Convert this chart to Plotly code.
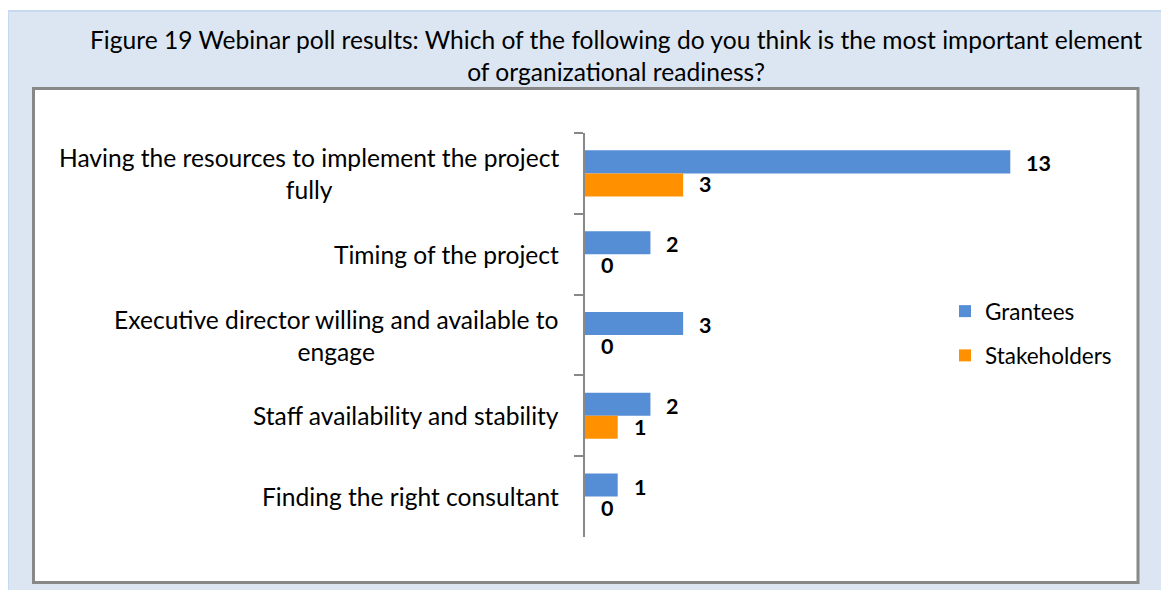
import plotly.graph_objects as go

categories = [
    "Having the resources to implement the project<br>fully",
    "Timing of the project",
    "Executive director willing and available to<br>engage",
    "Staff availability and stability",
    "Finding the right consultant",
]
grantees = [13, 2, 3, 2, 1]
stakeholders = [3, 0, 0, 1, 0]
series_names = ["Grantees", "Stakeholders"]
title_text = ("Figure 19 Webinar poll results: Which of the following do you think is the most important element"
              "<br>of organizational readiness?")

# page body has an 8px margin: figure covers reference pixels 8..1169 x 8..590
OFF = 8
W, H = 1169 - OFF, 590 - OFF
L, R, T, B = 585 - OFF, 1043 - OFF, 133 - OFF, 537 - OFF
FONT = "Lato"


def px2x(px):
    return (px - OFF - L) / (R - L)


def py2y(py):
    return (B - (py - OFF)) / (B - T)


fig = go.Figure()
fig.add_trace(go.Bar(y=categories, x=grantees, orientation="h", name=series_names[0],
                     marker=dict(color="#558ED5", line=dict(width=0)), legendgroup="g"))
fig.add_trace(go.Bar(y=categories, x=stakeholders, orientation="h", name=series_names[1],
                     marker=dict(color="#FF9000", line=dict(width=0)), legendgroup="s"))

annotations = []
# data labels
for vals, shift in ((grantees, 10), (stakeholders, -11)):
    for c, v in zip(categories, vals):
        annotations.append(dict(x=v, y=c, xref="x", yref="y", text=f"<b>{v}</b>", showarrow=False,
                                xanchor="left", xshift=14, yshift=shift,
                                font=dict(family=FONT, size=21.5, color="#000000")))
# category labels
for c in categories:
    annotations.append(dict(x=px2x(561), y=c, xref="paper", yref="y", text=c, showarrow=False,
                            xanchor="right", align="center",
                            font=dict(family=FONT, size=24.6, color="#000000")))
# title
annotations.append(dict(x=px2x(616), y=py2y(55), xref="paper", yref="paper", text=title_text,
                        showarrow=False, xanchor="center", yanchor="middle", align="center",
                        font=dict(family=FONT, size=24.6, color="#000000")))

shapes = [
    dict(type="rect", xref="paper", yref="paper", x0=px2x(8), x1=px2x(1175), y0=py2y(11), y1=py2y(600),
         fillcolor="#DCE6F2", line=dict(color="#C6D9F1", width=2), layer="below"),
    dict(type="rect", xref="paper", yref="paper", x0=px2x(33.5), x1=px2x(1138), y0=py2y(88.5), y1=py2y(582.5),
         fillcolor="#FFFFFF", line=dict(color="#888888", width=3), layer="below"),
]

fig.update_layout(
    width=W, height=H,
    margin=dict(l=L, r=W - R, t=T, b=H - B, pad=0),
    paper_bgcolor="#FFFFFF",
    plot_bgcolor="rgba(0,0,0,0)",
    barmode="group",
    bargap=0.43,
    bargroupgap=0,
    showlegend=True,
    legend=dict(x=px2x(945), y=py2y(290), xanchor="left", yanchor="top", traceorder="grouped",
                tracegroupgap=12, bgcolor="rgba(0,0,0,0)", itemwidth=30,
                font=dict(family=FONT, size=22.5, color="#000000")),
    xaxis=dict(range=[0, 14], visible=False, fixedrange=True),
    yaxis=dict(autorange="reversed", showticklabels=False, ticks="outside", tickson="boundaries",
               ticklen=9, tickcolor="#888888", tickwidth=2, showline=True, linecolor="#888888",
               linewidth=2, showgrid=False, zeroline=False),
    annotations=annotations,
    shapes=shapes,
    font=dict(family=FONT),
)

fig.write_html("out.html")
